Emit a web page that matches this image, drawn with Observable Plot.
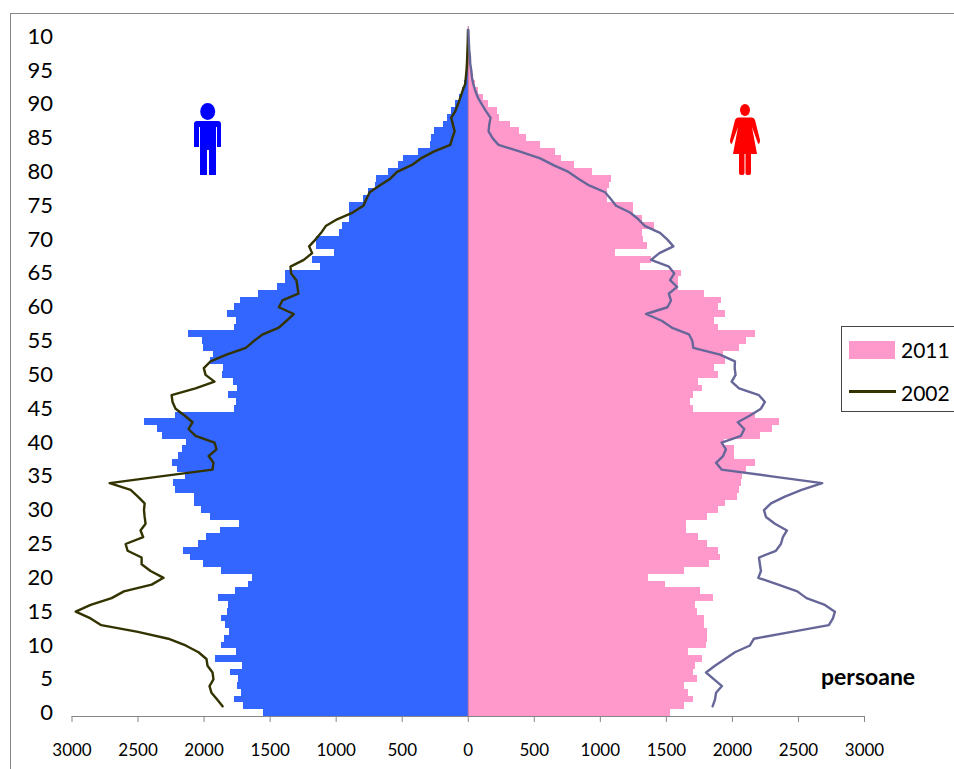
<!DOCTYPE html>
<html>
<head>
<meta charset="utf-8">
<script src="https://cdn.jsdelivr.net/npm/d3@7"></script>
<script src="https://cdn.jsdelivr.net/npm/@observablehq/plot@0.6"></script>
<style>
html,body{margin:0;padding:0;background:#fff;width:954px;height:769px;overflow:hidden}
#wrap{position:relative;width:954px;height:769px;font-family:Lato,sans-serif}
#frame{position:absolute;left:10px;top:13px;width:950px;height:770px;border-left:1px solid #868686;border-top:1px solid #868686}
#legend{position:absolute;left:841px;top:326px;width:120px;height:86px;border:1px solid #444;background:#fff;box-sizing:border-box;font-size:21px;color:#000}
#legend .sw{position:absolute;left:7px;top:14px;width:46px;height:18px;background:#ff99cc}
#legend .ln{position:absolute;left:7px;top:63px;width:47px;height:3px;background:#333300}
#legend .t{position:absolute;left:59px;line-height:24px}
#persoane{position:absolute;left:821px;top:663px;font-size:23px;font-weight:700;color:#000;line-height:26px}
svg.icon{position:absolute}
#chart{position:absolute;left:0;top:0}
</style>
</head>
<body>
<div id="wrap">
  <div id="frame"></div>
  <div id="chart"></div>
  <svg class="icon" style="left:190px;top:100px" width="34" height="78" viewBox="0 0 34 78"><g fill="#0000ff">
    <ellipse cx="17.7" cy="11.5" rx="7.5" ry="8.5"/>
    <path d="M7 21 H28 Q31 21 31 24 V47 H27 V27 H26 V75 H19 V50 H17 V75 H10 V27 H9 V47 H4 V24 Q4 21 7 21Z"/></g></svg>
  <svg class="icon" style="left:725px;top:100px" width="40" height="78" viewBox="0 0 40 78"><g fill="#ff0000">
    <ellipse cx="20" cy="10" rx="5" ry="6"/>
    <path d="M13 17.5 H27 Q29 17.5 30 20 L35 40 Q35 44.5 33 43.5 L27 27 L32 54 H26 V73 Q26 75 24 75 H22.5 Q20.5 75 20.5 73 V54 H19.5 V73 Q19.5 75 17.5 75 H16 Q14 75 14 73 V54 H8 L13 27 L7 43.5 Q5 44.5 5 40 L10 20 Q11 17.5 13 17.5Z"/></g></svg>
  <div id="legend"><div class="sw"></div><div class="t" style="top:11px">2011</div><div class="ln"></div><div class="t" style="top:54px">2002</div></div>
  <div id="persoane">persoane</div>
</div>
<script>
const ages = d3.range(0, 102);
const yTicks = d3.range(0, 101, 5);
const xTicks = [-3000,-2500,-2000,-1500,-1000,-500,0,500,1000,1500,2000,2500,3000];

const male2011 = [1550,1702,1770,1717,1747,1740,1800,1709,1913,1755,1868,1845,1808,1838,1868,1823,1815,1891,1762,1664,1634,1868,2004,2103,2156,2042,1982,1876,1732,1951,2019,2072,2072,2216,2231,2140,2201,2239,2193,2163,2133,2314,2352,2450,2216,1770,1755,1815,1747,1777,1861,1853,1951,1929,2004,2012,2118,1770,1755,1823,1770,1724,1588,1445,1384,1384,1119,1180,1013,1150,1150,976,953,900,900,900,794,756,703,696,605,529,492,378,287,280,257,189,159,129,98,68,45,30,20,15,10,6,4,2,2];

const female2011 = [1528,1641,1709,1671,1634,1732,1709,1717,1777,1671,1800,1808,1815,1785,1785,1732,1724,1853,1755,1490,1361,1641,1830,1906,1891,1808,1747,1649,1656,1808,1891,1951,2042,2057,2072,2080,2110,2178,2019,2019,1939,2216,2307,2360,2171,1702,1679,1709,1770,1747,1891,1868,1951,1929,2057,2103,2178,1891,1868,1944,1891,1921,1792,1591,1591,1618,1301,1389,1112,1354,1324,1316,1407,1318,1248,1248,1056,1051,1066,1081,938,802,703,658,544,439,386,318,234,219,151,113,76,53,40,28,20,12,8,5,4];

const male2002 = [1860,1901,1944,1959,1929,1936,1974,1982,2042,2140,2271,2501,2778,2859,2972,2859,2700,2607,2397,2307,2405,2473,2473,2579,2594,2461,2481,2443,2450,2455,2450,2501,2556,2715,2329,1936,1929,1966,1906,1921,2065,2118,2087,2148,2216,2239,2246,2065,1921,1989,2002,1951,1830,1684,1624,1555,1434,1376,1321,1434,1407,1286,1293,1301,1341,1346,1245,1182,1205,1157,1114,1079,993,875,794,771,746,671,590,539,429,358,262,136,121,103,116,129,98,78,60,43,23,18,13,10,8,6,4,3,2];

const female2002 = [1850,1868,1876,1921,1861,1800,1868,1944,2019,2133,2163,2448,2730,2761,2776,2700,2561,2491,2347,2196,2216,2208,2201,2329,2367,2382,2413,2322,2254,2239,2292,2397,2524,2680,2297,1918,1876,1929,1951,1918,2065,2090,2040,2133,2216,2246,2201,2050,1994,2024,2017,2019,1906,1704,1697,1671,1540,1465,1346,1508,1535,1518,1581,1528,1560,1520,1384,1447,1553,1508,1452,1339,1288,1225,1119,1079,1036,915,834,759,645,545,393,229,184,154,159,169,134,103,73,53,38,28,23,15,13,8,5,3,0];

const rows = (a, sign, shift = 0) => a.map((v, i) => ({age: i + shift, value: sign * v}));

const chart = Plot.plot({
  width: 954,
  height: 769,
  marginLeft: 71.5,
  marginRight: 90,
  marginTop: 26,
  marginBottom: 53,
  style: {background: "transparent", fontFamily: "Lato, sans-serif", color: "#000", overflow: "visible"},
  x: {domain: [-3000, 3000]},
  y: {type: "band", domain: ages, reverse: true, padding: 0, align: 0},
  marks: [
    Plot.barX(rows(male2011, -1), {x: "value", y: "age", fill: "#3366ff", shapeRendering: "crispEdges"}),
    Plot.barX(rows(female2011, 1), {x: "value", y: "age", fill: "#ff99cc", shapeRendering: "crispEdges"}),
    Plot.ruleX([0], {stroke: "#c0739c", strokeWidth: 1}),
    Plot.line(rows(male2002, -1, 1), {x: "value", y: "age", stroke: "#333300", strokeWidth: 2.4, curve: "linear"}),
    Plot.line(rows(female2002, 1, 1), {x: "value", y: "age", stroke: "#666699", strokeWidth: 2.4, curve: "linear"}),
    Plot.frame({anchor: "bottom", stroke: "#868686"}),
    Plot.axisX({ticks: xTicks, tickFormat: d => String(Math.abs(d)), tickSize: 6, tickPadding: 21, stroke: "#868686", fontSize: 17, label: null}),
    Plot.axisY({ticks: yTicks, tickFormat: d => d === 100 ? "10" : String(d), tickSize: 0, tickPadding: 0, fontSize: 22, label: null, dx: -19, textAnchor: "end"})
  ]
});
document.getElementById("chart").appendChild(chart);
</script>
</body>
</html>
